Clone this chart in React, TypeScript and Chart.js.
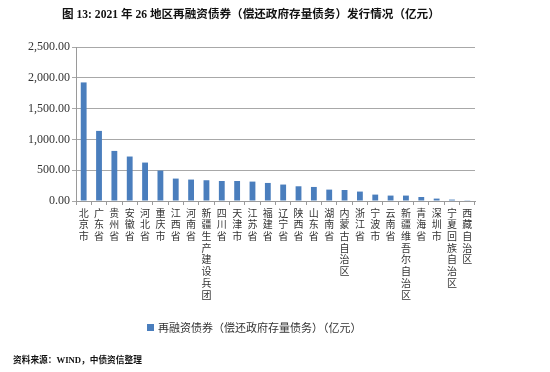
import React, { useEffect, useRef } from "react";
import { Chart, registerables } from "chart.js";

Chart.register(...registerables);

const regions: string[] = [
  "北京市", "广东省", "贵州省", "安徽省", "河北省", "重庆市", "江西省", "河南省",
  "新疆生产建设兵团", "四川省", "天津市", "江苏省", "福建省", "辽宁省", "陕西省", "山东省",
  "湖南省", "内蒙古自治区", "浙江省", "宁波市", "云南省", "新疆维吾尔自治区", "青海省", "深圳市",
  "宁夏回族自治区", "西藏自治区",
];

const refinancingBonds: number[] = [
  1925, 1138, 813, 722, 624, 494, 364, 348,
  337, 325, 325, 315, 293, 267, 239, 228,
  185, 179, 153, 104, 88, 88, 65, 39,
  23, 12,
];

const yTicks: number[] = [0, 500, 1000, 1500, 2000, 2500];

const seriesLabel = "再融资债券（偿还政府存量债务）（亿元）";
const titleText = "图 13: 2021 年 26 地区再融资债券（偿还政府存量债务）发行情况（亿元）";
const sourceText = "资料来源：WIND，中债资信整理";

const BAR_COLOR = "#4a7ebd";
const CJK = "'Noto Sans CJK SC', sans-serif";
const MIXED = "'Liberation Serif', 'Noto Sans CJK SC', serif";

export default function App() {
  const canvasRef = useRef<HTMLCanvasElement | null>(null);

  useEffect(() => {
    const canvas = canvasRef.current;
    if (!canvas) return;
    const chart = new Chart(canvas, {
      type: "bar",
      data: {
        labels: regions.map((r) => r.split("")),
        datasets: [
          {
            label: seriesLabel,
            data: refinancingBonds,
            backgroundColor: BAR_COLOR,
            borderWidth: 0,
            categoryPercentage: 1,
            barPercentage: 0.38,
          },
        ],
      },
      options: {
        animation: false,
        responsive: false,
        maintainAspectRatio: false,
        layout: { padding: { top: 47, left: 0, right: 75, bottom: 0 } },
        plugins: {
          legend: { display: false },
          title: { display: false },
          tooltip: { enabled: false },
        },
        scales: {
          x: {
            offset: true,
            grid: {
              display: true,
              drawOnChartArea: false,
              drawTicks: true,
              tickLength: 4,
              color: "#9a9a9a",
              offset: true,
            },
            border: { display: true, color: "#9a9a9a", width: 1 },
            ticks: {
              autoSkip: false,
              maxRotation: 0,
              minRotation: 0,
              padding: 2,
              color: "#333",
              font: { family: CJK, size: 10, lineHeight: 1.17 },
            },
            afterFit: (scale: any) => {
              scale.height = 171;
            },
          },
          y: {
            min: 0,
            max: 2500,
            afterBuildTicks: (scale: any) => {
              scale.ticks = yTicks.map((v) => ({ value: v }));
            },
            grid: {
              color: "#a8a8a8",
              lineWidth: 1,
              drawTicks: true,
              tickLength: 4,
            },
            border: { display: true, color: "#9a9a9a", width: 1 },
            ticks: {
              padding: 2,
              color: "#333",
              font: { family: "'Liberation Serif', serif", size: 12 },
              callback: (v: any) =>
                Number(v).toLocaleString("en-US", {
                  minimumFractionDigits: 2,
                  maximumFractionDigits: 2,
                }),
            },
            afterFit: (scale: any) => {
              scale.width = 76;
            },
          },
        },
      },
    });
    return () => chart.destroy();
  }, []);

  return (
    <div
      style={{
        position: "fixed",
        left: 0,
        top: 0,
        width: 550,
        height: 372,
        background: "#fff",
        overflow: "hidden",
      }}
    >
      <canvas
        ref={canvasRef}
        width={550}
        height={372}
        style={{ position: "absolute", left: 0, top: 0, width: 550, height: 372 }}
      />
      <div
        style={{
          position: "absolute",
          left: 62,
          top: 7,
          fontFamily: MIXED,
          fontWeight: "bold",
          fontSize: 11.6,
          lineHeight: "16px",
          color: "#111",
          whiteSpace: "nowrap",
        }}
      >
        {titleText}
      </div>
      <div
        style={{
          position: "absolute",
          left: 147,
          top: 319,
          display: "flex",
          alignItems: "center",
          fontFamily: CJK,
          fontSize: 11,
          lineHeight: "16px",
          color: "#333",
          whiteSpace: "nowrap",
        }}
      >
        <span
          style={{
            display: "inline-block",
            width: 7,
            height: 7,
            background: BAR_COLOR,
            marginRight: 4,
          }}
        />
        {seriesLabel}
      </div>
      <div
        style={{
          position: "absolute",
          left: 13,
          top: 353,
          fontFamily: MIXED,
          fontWeight: "bold",
          fontSize: 8.7,
          lineHeight: "14px",
          color: "#111",
          whiteSpace: "nowrap",
        }}
      >
        {sourceText}
      </div>
    </div>
  );
}
